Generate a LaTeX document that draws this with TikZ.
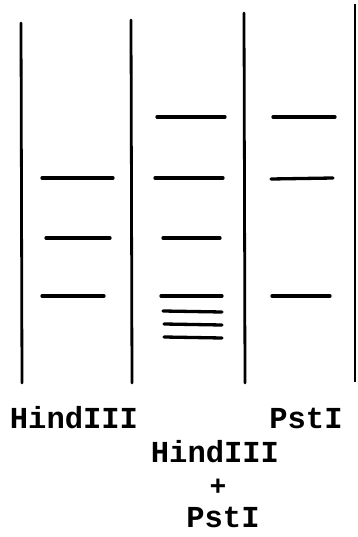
\documentclass[tikz,border=0pt]{standalone}
\usepackage{fontspec}
\newfontfamily\gelfont{Liberation Mono}
\usepackage{tikz}
\tikzset{
	lanewall/.style={
			line width=2.8pt,
			line cap=round
		},
	thinwall/.style={
			line width=1.6pt
		},
	band/.style={
			line width=3.3pt,
			line cap=round
		},
	lanelabel/.style={
			font=\gelfont\bfseries\fontsize{30.5}{34}\selectfont,
			inner sep=0pt,
			anchor=base
		}
}

\begin{document}
\begin{tikzpicture}[x=1pt, y=-1pt]
\useasboundingbox (0,0) rectangle (357,537);

% walls of the lanes
\draw[lanewall] (21,23) -- (22,383);
\draw[lanewall] (131,20) -- (132,383);
\draw[lanewall] (244,13) -- (245,383);
\draw[thinwall] (355,4) -- (355,382);

% HindIII
\draw[band] (42,178) -- (113,178);
\draw[band] (46,238) -- (110,238);
\draw[band] (42,296) -- (104,296);

% HindIII + PstI
\draw[band] (157,117) -- (225,117);
\draw[band] (155,178) -- (223,178);
\draw[band] (163,238) -- (220,238);
\draw[band] (161,296) -- (222,296);
\draw[band] (163,311) -- (222,312);
\draw[band] (164,324) -- (222,325);
\draw[band] (164,337) -- (222,338);

% PstI
\draw[band] (273,117) -- (335,117);
\draw[band] (271,179) -- (333,178);
\draw[band] (272,296) -- (330,296);

\node[lanelabel] (hind) at (74,428) {HindIII};
\node[lanelabel] (pst) at (306,428) {PstI};
\node[lanelabel] (both) at (215,462) {HindIII};
\node[lanelabel, font=\gelfont\bfseries\fontsize{28}{32}\selectfont, anchor=center] (plus) at (218,487) {+};
\node[lanelabel] (bothpst) at (223,527) {PstI};
\end{tikzpicture}
\end{document}
